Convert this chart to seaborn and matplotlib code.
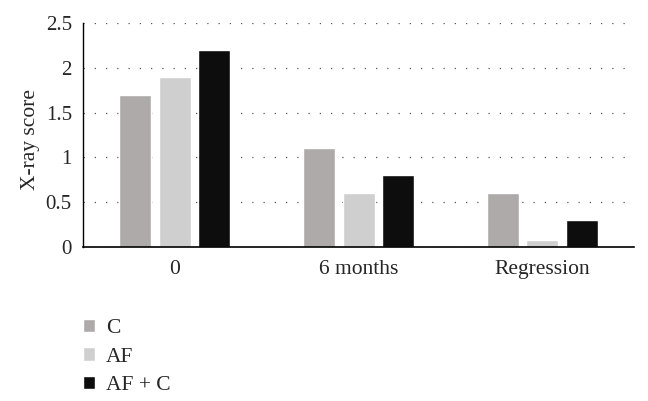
import numpy as np
import pandas as pd
import matplotlib
matplotlib.use("Agg")
import matplotlib.pyplot as plt
import seaborn as sns

# 数据
categories = ["0", "6 months", "Regression"]
groups = ["C", "AF", "AF + C"]
c_vals = [1.7, 1.1, 0.6]
af_vals = [1.9, 0.6, 0.08]
afc_vals = [2.2, 0.8, 0.3]
palette = ["#aeaaa9", "#d0cfcf", "#0d0d0d"]

sns.set_style("white")
plt.rcParams['font.family'] = ['Liberation Serif', 'DejaVu Serif']

df = pd.DataFrame({
    'time': categories * 3,
    'group': [g for g in groups for _ in categories],
    'score': c_vals + af_vals + afc_vals,
})

fig = plt.figure(figsize=(6.48, 4.01), dpi=100)
ax = fig.add_axes([0.128, 0.384, 0.851, 0.559])

sns.barplot(data=df, x='time', y='score', hue='group', order=categories,
            hue_order=groups, palette=palette, width=0.645, gap=0.19,
            saturation=1, ax=ax, legend=True)

ax.set_ylim(0, 2.5)
ax.set_yticks([0, 0.5, 1, 1.5, 2, 2.5])
ax.set_yticklabels(['0', '0.5', '1', '1.5', '2', '2.5'])
ax.yaxis.grid(True, linestyle=(0, (1, 8)), color='#555555', linewidth=0.9)
ax.set_axisbelow(True)
ax.set_xlabel('')
ax.set_ylabel('X-ray score', fontsize=15.5)
ax.yaxis.set_label_coords(-0.078, 0.48)
ax.tick_params(axis='y', length=0, labelsize=15, pad=8)
ax.tick_params(axis='x', length=0, labelsize=15.5, pad=9)
for s in ['top', 'right']:
    ax.spines[s].set_visible(False)
ax.spines['left'].set_color('black')
ax.spines['bottom'].set_color('black')
ax.spines['left'].set_linewidth(1.0)
ax.spines['bottom'].set_linewidth(1.2)

ax.get_legend().remove()
leg = fig.legend(*ax.get_legend_handles_labels(), loc='upper left',
                 bbox_to_anchor=(0.128, 0.204), frameon=False,
                 fontsize=15.5, handlelength=0.56, handleheight=0.56,
                 labelspacing=0.42, handletextpad=0.5, borderpad=0,
                 borderaxespad=0)

fig.savefig('out.png', dpi=100)
